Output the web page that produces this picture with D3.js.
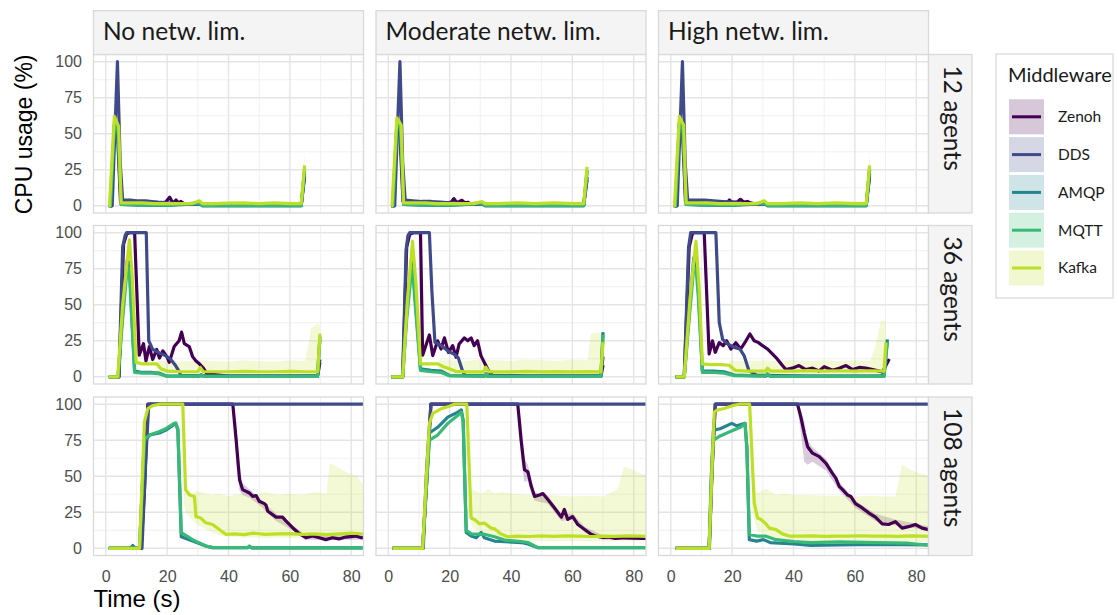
<!DOCTYPE html>
<html>
<head>
<meta charset="utf-8">
<script src="https://cdn.jsdelivr.net/npm/d3@7"></script>
<style>
  body { margin: 0; background: #fff; }
  .strip text { font-family: Lato, sans-serif; fill: #1a1a1a; }
  .axis text { font-family: "Liberation Sans", Arial, sans-serif; fill: #4d4d4d; font-size: 16px; }
</style>
</head>
<body>
<svg id="chart" width="1118" height="615"></svg>
<script>
var middleware = ["Zenoh", "DDS", "AMQP", "MQTT", "Kafka"];
var limits = ["No netw. lim.", "Moderate netw. lim.", "High netw. lim."];
var agentRows = ["12 agents", "36 agents", "108 agents"];
var xTicks = [0, 20, 40, 60, 80], xMinor = [10, 30, 50, 70];
var yTicks = [0, 25, 50, 75, 100], yMinor = [12.5, 37.5, 62.5, 87.5];

// ---- 12 agents  ([time s, cpu %]) ----
var a12_none_zenoh = [[1,0],[1.8,0],[2.8,56],[3.8,52],[4.8,3],[6,2.5],[9,2],[13,1.5],[17,1.5],[19.5,2.5],[20.8,6],[21.6,3],[22.3,2.5],[22.9,4],[23.7,2],[24.5,3],[25.5,1.5],[26.5,1],[30.5,1.5],[31.5,0.5],[45,0.5],[63.7,0.5],[64.8,22]];
var a12_none_dds = [[1,0],[2.1,0],[3.8,100],[4.7,30],[5.5,4],[8,4],[10,3.5],[13,3.5],[15,3],[17,2.5],[20,2],[24,1.5],[28,1],[30.5,1.5],[31.5,0.5],[45,0.5],[63.7,0.5],[64.8,20]];
var a12_none_amqp = [[1,0],[1.5,0],[2.8,54],[4,50],[5,1],[10,0.5],[20,0.3],[30.5,1.5],[31.5,0],[63.7,0],[64.8,24]];
var a12_none_mqtt = [[1,0],[1.5,0],[2.8,57],[4,52],[5,1],[10,0.8],[20,0.5],[30.5,2],[31.5,0.3],[63.7,0.3],[64.8,26]];
var a12_none_kafka = [[1,0],[1.2,0],[2.8,62],[4.2,55],[5,2],[8,2],[12,2],[16,1.5],[20,1.5],[25,1.5],[28,1.5],[30.5,3.5],[31.5,1.5],[35,1.5],[40,1.8],[45,2],[50,1.5],[55,2],[60,1.5],[63.7,1.5],[64.8,28]];

var a12_mod_zenoh = [[1,0],[1.8,0],[2.8,55],[3.8,50],[4.8,3],[6,2.5],[10,2],[14,1.5],[18,1.5],[20.5,2.5],[21.4,5],[22.2,2.5],[23.2,3],[24,3.8],[25,2],[26,2.5],[27,1],[30.5,1.5],[31.5,0.5],[45,0.5],[63.7,0.5],[64.8,20]];
var a12_mod_dds = [[1,0],[2.1,0],[3.8,100],[4.7,30],[5.5,4],[8,3.5],[11,3],[14,3],[17,2.5],[20,2],[24,1.5],[28,1],[30.5,1.5],[31.5,0.5],[45,0.5],[63.7,0.5],[64.8,18]];
var a12_mod_amqp = [[1,0],[1.5,0],[2.8,56],[4,52],[5,1],[10,0.5],[20,0.3],[30.5,1.5],[31.5,0],[63.7,0],[64.8,24]];
var a12_mod_mqtt = [[1,0],[1.5,0],[2.8,58],[4,54],[5,1],[10,0.8],[20,0.5],[30.5,2],[31.5,0.3],[63.7,0.3],[64.8,25]];
var a12_mod_kafka = [[1,0],[1.2,0],[2.8,61],[4.2,56],[5,2],[8,2],[12,2],[16,1.5],[20,1.5],[25,1.5],[28,1.5],[30.5,3],[31.5,1.5],[36,1.5],[42,2],[48,1.5],[54,2],[60,1.5],[63.7,1.5],[64.8,27]];

var a12_high_zenoh = [[1,0],[1.8,0],[2.8,57],[3.8,53],[4.8,3],[6,2.5],[10,2],[14,1.5],[17,2],[18.5,2.5],[19.1,4],[20,2.5],[21.5,2.5],[22.7,4.5],[23.8,2.5],[25,3],[26,2],[28,1],[30.5,1.5],[31.5,0.5],[45,0.5],[63.7,0.5],[64.8,22]];
var a12_high_dds = [[1,0],[2.1,0],[3.8,100],[4.7,30],[5.5,4],[8,4],[11,4],[14,3.5],[17,3],[20,2.5],[24,1.5],[28,1],[30.5,1.5],[31.5,0.5],[45,0.5],[63.7,0.5],[64.8,20]];
var a12_high_amqp = [[1,0],[1.5,0],[2.8,55],[4,51],[5,1],[10,0.5],[20,0.3],[30.5,1.5],[31.5,0],[63.7,0],[64.8,25]];
var a12_high_mqtt = [[1,0],[1.5,0],[2.8,58],[4,53],[5,1],[10,0.8],[20,0.5],[30.5,2],[31.5,0.3],[63.7,0.3],[64.8,26]];
var a12_high_kafka = [[1,0],[1.2,0],[2.8,62],[4.2,56],[5,2],[8,2],[12,2],[16,1.5],[20,1.5],[25,1.5],[28,1.5],[30.5,3.5],[31.5,1.5],[36,1.5],[42,2],[48,1.5],[54,2],[60,1.5],[63.7,1.5],[64.8,28]];

// ---- 36 agents ----
var a36_none_zenoh = [[1,0],[4.3,0],[5.8,92],[6.8,99],[7.7,100],[9.4,100],[10.9,15],[12.3,23],[13.1,11],[14.2,21],[15.3,12],[16.6,19],[17.5,13],[18.6,18],[19.9,14],[20.7,10],[22.3,21],[23.9,25],[24.7,31],[25.6,23],[27.2,21],[28.3,14],[29.4,11],[30.5,9],[31.8,6],[33,2],[40,0.5],[55,0.5],[69,0.5],[69.8,10]];
var a36_none_dds = [[1,0],[4.3,0],[5.5,90],[6.3,98],[6.8,100],[13.2,100],[14,25],[15.3,19],[17.5,16.5],[19.6,14.5],[21.2,12],[22.8,7.6],[23.6,4.8],[24.5,1],[40,0.5],[55,0.5],[69,0.5],[69.8,12]];
var a36_none_amqp = [[1,0],[4,0],[5.5,45],[7,81],[7.7,79],[8.2,55],[9.4,4],[12,3],[15,3],[17.5,2.5],[19.6,0.7],[30.5,0.5],[31,1.5],[32,0.3],[50,0.3],[69,0.3],[69.8,28]];
var a36_none_mqtt = [[1,0],[4,0],[5.5,40],[7,76],[7.7,74],[8.2,50],[9.4,3],[12,2.5],[15,2.5],[17.5,2],[19.6,0.5],[30.5,0.5],[31,1.5],[32,0.3],[50,0.3],[69,0.3],[69.8,26]];
var a36_none_kafka = [[1,0],[3.9,0],[5.5,50],[7.7,95],[8.6,70],[9.9,10],[12,9],[14,9],[16.6,9],[18,5.5],[20,4],[25,3.5],[30,3.5],[30.8,6.5],[31.8,3.5],[40,3.5],[45,3.8],[50,3.5],[55,3.5],[60,3.8],[65,3.5],[69.1,3.5],[69.8,30]];

var a36_mod_zenoh = [[1,0],[4.7,0],[6,90],[7,99],[8.2,100],[10.5,100],[11.2,15],[12.3,22],[13.4,29],[14.5,14.7],[16.1,25],[17.2,19.3],[18.3,27],[19.6,17],[21,21.6],[22.1,13.6],[23.1,22.8],[24.8,27],[25.9,25],[27,27],[28,21.6],[29.1,25],[30.2,14.7],[31.8,7.8],[32.9,3.2],[34,1],[45,0.5],[69.3,0.5],[70,8]];
var a36_mod_dds = [[1,0],[4.7,0],[5.8,88],[6.4,98],[7,100],[13.4,100],[14.2,60],[15.2,24],[17,22],[19.4,18],[21.5,15.6],[22.8,13.3],[24.2,4.1],[25,1],[45,0.5],[69.3,0.5],[70,14]];
var a36_mod_amqp = [[1,0],[4.7,0],[6,45],[7.6,81],[7.9,84],[8.6,60],[10.5,5.5],[14,4.5],[17.2,4],[19.9,0.9],[31.3,0.5],[31.8,2],[32.5,0.3],[50,0.3],[69.3,0.3],[70,31]];
var a36_mod_mqtt = [[1,0],[4.7,0],[6,40],[7.6,74],[7.9,76],[8.6,55],[10.5,4.5],[14,3.5],[17.2,3],[19.9,0.7],[31.3,0.5],[31.8,2],[32.5,0.3],[50,0.3],[69.3,0.3],[70,29]];
var a36_mod_kafka = [[1,0],[4.7,0],[6.3,55],[7.9,94],[9,65],[10.5,9],[13,9],[16.1,9],[18,7],[19.9,5.5],[22,3.8],[26,3.4],[31,3.4],[31.8,6.7],[32.8,3.4],[40,3.4],[45,3.8],[50,3.4],[55,3.6],[60,3.4],[65,3.6],[69.3,3.4],[70,24]];

var a36_high_zenoh = [[1.6,0],[4.4,0],[6,90],[7,99],[7.5,100],[10.9,100],[12.5,15.9],[13.6,25],[14.5,17],[15.8,23.7],[17.1,21.6],[18.2,25],[19.6,19.3],[21.2,23.7],[22.8,19.3],[24.5,25],[25.8,29.7],[27.2,25],[28.6,23.7],[29.9,21.6],[31.5,19.3],[33.1,15.9],[34.7,12.4],[36.4,7.8],[37.5,5],[39.6,6],[41.8,7.8],[44,5],[46.2,6],[48.3,4],[50,7],[52.7,4.5],[54.9,6],[57.1,7.8],[59.3,5],[61.4,6.5],[63.6,6],[65.8,5],[69,3.4],[71.2,12.4]];
var a36_high_dds = [[1.6,0],[4.4,0],[5.8,90],[6.5,100],[14.7,100],[15.8,37.7],[16.9,26],[18.5,22.8],[20.7,20.4],[22.5,19.3],[23.9,14.7],[25.5,4.1],[26.6,3],[28,1],[45,0.5],[69,0.5],[70.3,11]];
var a36_high_amqp = [[1.6,0],[4.4,0],[6,45],[7.5,82.5],[8.3,80],[9,60],[10.3,4],[14,4],[17.4,3.5],[20.7,1.2],[31,0.5],[31.5,2],[32.5,0.3],[50,0.3],[69.5,0.3],[70.6,26]];
var a36_high_mqtt = [[1.6,0],[4.4,0],[6,40],[7.5,76],[8.3,74],[9,55],[10.3,3],[14,3],[17.4,2.5],[20.7,0.8],[31,0.5],[31.5,2],[32.5,0.3],[50,0.3],[69.5,0.3],[70.6,24]];
var a36_high_kafka = [[1.6,0],[4.4,0],[6.3,55],[8.2,94],[9.3,60],[10.3,9],[13,8.5],[16,8.5],[19,8],[21,4.5],[25,4],[31,4],[31.5,6],[32.5,4],[40,4],[45,4.3],[50,4],[55,4.2],[60,4],[65,4.2],[69.5,4],[70.1,23.7]];

// ---- 108 agents ----
var a108_none_zenoh = [[1,0],[11.5,0],[12.6,40],[13.7,100],[41.4,100],[42.5,75],[43.6,47.6],[44.6,40.7],[46.8,38.4],[47.9,36],[49,36.6],[50,32.6],[51.7,31],[52.2,30],[52.8,25.7],[55.5,21.6],[57.6,21.6],[58.7,19],[60.9,14.3],[63,10.3],[65.2,7.3],[67.4,8.5],[69.6,7.3],[71.7,6],[73.9,7.3],[76,6.5],[78.2,7.8],[81.4,8.5],[83.4,7.3],[85,7.5]];
var a108_none_dds = [[1,0],[11.8,0],[13,60],[14,100],[85,100]];
var a108_none_amqp = [[1,0],[8,0],[8.8,2],[9.6,0],[11,0],[12.6,74],[14.3,78.6],[17.5,80],[19.6,82],[22.3,86],[22.8,86.7],[23.5,82],[24.6,8],[28.3,5],[32.6,1.6],[34.8,0.5],[46.3,0.5],[46.8,1.5],[47.5,0.3],[85,0.3]];
var a108_none_mqtt = [[1,0],[11,0],[12.6,76],[14.3,78.6],[17.5,81],[19.6,83],[22.3,86.7],[22.8,87],[23.5,83],[24.6,10.8],[28.3,6],[32.6,1.6],[34.8,0.5],[46.3,0.5],[46.8,1.5],[47.5,0.3],[85,0.3]];
var a108_none_kafka = [[1,0],[11,0],[12.6,87.8],[13.7,97],[15.3,99],[17.5,100],[25.1,100],[26,40.7],[27.3,37],[28.9,36],[29.4,22],[31,21],[32.6,17.7],[34.8,16.5],[37,13],[39.1,9.7],[42,10],[45,9.5],[48,10.5],[52,9.7],[56,10],[60,10.2],[64,9.7],[68,10],[72,9.5],[76,10],[80,10.5],[85,9.8]];

var a108_mod_zenoh = [[1.4,0],[11.2,0],[12.5,45],[13.9,100],[42.2,100],[43.3,75],[44.4,54.5],[45.5,53],[46.6,43],[47.7,36],[49.3,37],[50.4,38],[52,33.8],[54.2,28],[56.4,21.6],[57.4,27],[58.5,20],[60.1,22],[61.8,16.5],[64,13],[66.1,9.7],[67.5,8.5],[70,7.5],[72,7.8],[74,6.8],[77,7.3],[80,7],[83,6.8],[85,7]];
var a108_mod_dds = [[1.4,0],[11.4,0],[12.5,55],[13.9,100],[85,100]];
var a108_mod_amqp = [[1.4,0],[11.2,0],[12.3,40],[13.4,80],[16.1,84],[19.4,91],[22.7,94.5],[23.8,96],[24.4,89],[25.4,11],[27,8.5],[28.7,7.3],[30.3,11],[31.3,7.3],[34.6,5],[43.3,4],[45.5,3],[48.7,0.5],[85,0.5]];
var a108_mod_mqtt = [[1.4,0],[11.2,0],[12.3,38],[13.4,75],[16.1,78.6],[19.4,86.7],[22.7,92.4],[23.8,94.5],[24.4,88],[25.4,12.6],[27,10],[31.3,9.7],[34.6,8],[37.9,5.7],[43.3,4.7],[45.5,4],[48.7,0.5],[85,0.5]];
var a108_mod_kafka = [[1.4,0],[11.2,0],[12.3,45],[13.4,86.7],[14.5,93.6],[17.2,96.8],[19.9,98.6],[21.5,100],[25.6,100],[27,21],[28.1,20],[29.7,17],[31.3,17.5],[33.5,14],[34.6,13.5],[36.7,10],[38.9,8],[42,8.4],[46,8.2],[50,8.6],[54,8.3],[58,8.6],[62,8.4],[66,8.2],[70,8.5],[74,8.3],[78,8.6],[82,8.4],[85,8.2]];

var a108_high_zenoh = [[1.6,0],[12.5,0],[13.5,55],[14.5,100],[41.3,100],[42.4,91],[43.5,80],[44.6,70.5],[46.2,66],[48.4,63.6],[50.6,59],[52.7,52],[53.8,48.7],[54.9,43],[56,40.7],[57.6,37],[58.7,36],[60.2,31],[62.4,28],[64.5,24.6],[66.7,21.6],[68.9,17],[71,16.5],[73.2,18.5],[75.4,14],[77.5,15],[79.7,16.5],[81.9,14],[84,13],[85,13.5]];
var a108_high_dds = [[1.6,0],[12.6,0],[13.5,60],[14.5,100],[85,100]];
var a108_high_amqp = [[1.6,0],[12.5,0],[13.2,50],[13.9,82],[16.1,83],[19.9,86.7],[21.5,85],[24.2,86.7],[24.8,70],[25.6,6],[28,5],[30.2,6],[32.4,4],[40.1,3],[45.6,2],[55,2.3],[67.3,2.7],[76,2.5],[85,2.3]];
var a108_high_mqtt = [[1.6,0],[12.5,0],[13.2,45],[13.9,75],[16.1,78],[19.4,81],[22.7,84],[24.2,86.7],[24.8,70],[25.6,9.7],[28,8.5],[30.8,8.5],[34.3,6],[40.1,4.7],[45.6,4],[55,4.5],[67.3,4],[76.9,3.6],[80,3],[85,2]];
var a108_high_kafka = [[1.6,0],[12.5,0],[13.5,60],[14.2,94.7],[15.3,96],[17.4,97],[20.1,99],[22.3,100],[25.7,100],[27.2,31.5],[28.3,21],[29.4,20],[31,17],[32.1,14],[34.3,13],[36.4,10],[38.6,8.5],[42,8.4],[46,8.6],[50,8.3],[54,8.5],[58,8.4],[62,8.7],[66,8.4],[70,8.5],[74,8.3],[78,8.6],[82,8.4],[85,8.3]];

// ---- ribbons ([time s, low %, high %]) ----
var b12_none_kafka = [[58,0.5,3],[63.7,0.5,3],[64.8,18,38]];
var b12_mod_kafka = [[58,0.5,3],[63.7,0.5,3],[64.8,18,36]];
var b12_high_kafka = [[58,0.5,3],[63.7,0.5,3],[64.8,18,38]];
var b36_none_kafka = [[16.6,3,11],[20,2.5,11],[25,2.5,10.5],[30,2.8,11.5],[35,2.5,11],[40,2.5,10.5],[45,2.8,11.5],[50,2.5,11],[55,2.5,10.5],[60,2.8,11.5],[65,2.5,11],[67,2.5,34],[69.1,2.5,37],[69.8,22,36]];
var b36_mod_kafka = [[16.1,2,11.3],[20,1.5,11.5],[25,1.5,11],[30,1.5,12],[35,1.5,11.5],[40,1.5,11],[45,1.5,12],[50,1.5,11.5],[55,1.5,11],[60,1.5,12],[65,1.5,11.5],[66,1.5,30],[69.3,1.5,31],[70,18,30]];
var b36_high_kafka = [[19,2,11.3],[25,1.5,11],[30,1.5,11.5],[35,1.5,11],[40,1.5,11.5],[45,1.5,11],[50,1.5,11.5],[55,1.5,11],[60,1.5,11.5],[65,1.5,11],[67,1.5,24],[68.5,1.5,39],[70.1,15,39]];
var b108_none_kafka = [[25.5,30,45],[26,25,42],[28,20,38],[30,16,40],[32.6,13,38],[34.8,11,37],[37,9,38],[40,8,36],[44,7.5,38],[48,7.5,37],[52,7,39],[56,7.5,37],[60,7,38],[64,7.5,37],[68,7,39],[72,7.5,38],[73,7.5,59],[75,7.5,57],[79,7.5,52],[82,7.5,50],[85,7.5,40]];
var b108_mod_kafka = [[26,25,40],[27.5,14,40.7],[30.3,11,38],[32.6,10,41],[34.6,8,38],[36.7,6,39],[40,5,38],[45,5,37],[50,5,37.5],[55,5,36.5],[60,5,36],[65,5,36.5],[70,5,36],[74.7,5,40.7],[76.9,5,56.8],[79.1,5,55],[82,5,52],[85,5,50]];
var b108_high_kafka = [[26.5,25,42],[28.3,12,38],[31,9,41.5],[34.3,6,37],[37,5,38],[40,4.5,37],[45,4.5,37],[50,4.5,36.5],[55,4.5,36.5],[60,4.5,36],[65,4.5,36.5],[70,4.5,36],[73.2,4.5,36],[75.4,4.5,58],[77.6,4.5,55],[81,4.5,52],[85,4.5,50]];
var b108_none_zenoh = [[41.4,99,100],[42.5,60,88],[43.6,40,55],[44.6,37,45],[46.8,35,41],[50,30,35],[55.5,19,24],[60.9,12.5,16],[65.2,6,9],[70,6,9],[85,6,9]];
var b108_mod_zenoh = [[42.2,99,100],[43.3,62,88],[44.4,46,62],[45.5,47,58],[46.6,38,48],[47.7,33,39],[52,31,36.5],[56.4,19,24],[60.1,20,24],[64,11,15],[70,6,9],[85,6,8.5]];
var b108_high_zenoh = [[41.3,99,100],[42.4,80,96],[43.5,60,88],[44.6,58,75],[46.2,60,70],[50.6,54,62],[54.9,40,46],[60.2,28,33],[66.7,19,24],[73.2,16,20],[85,12,15]];

// lookup tables built from the arrays above
var lines = [
  [[a12_none_zenoh, a12_none_dds, a12_none_amqp, a12_none_mqtt, a12_none_kafka],
   [a12_mod_zenoh, a12_mod_dds, a12_mod_amqp, a12_mod_mqtt, a12_mod_kafka],
   [a12_high_zenoh, a12_high_dds, a12_high_amqp, a12_high_mqtt, a12_high_kafka]],
  [[a36_none_zenoh, a36_none_dds, a36_none_amqp, a36_none_mqtt, a36_none_kafka],
   [a36_mod_zenoh, a36_mod_dds, a36_mod_amqp, a36_mod_mqtt, a36_mod_kafka],
   [a36_high_zenoh, a36_high_dds, a36_high_amqp, a36_high_mqtt, a36_high_kafka]],
  [[a108_none_zenoh, a108_none_dds, a108_none_amqp, a108_none_mqtt, a108_none_kafka],
   [a108_mod_zenoh, a108_mod_dds, a108_mod_amqp, a108_mod_mqtt, a108_mod_kafka],
   [a108_high_zenoh, a108_high_dds, a108_high_amqp, a108_high_mqtt, a108_high_kafka]]
];
var ribbons = [
  [[{mw:"Kafka", d:b12_none_kafka}], [{mw:"Kafka", d:b12_mod_kafka}], [{mw:"Kafka", d:b12_high_kafka}]],
  [[{mw:"Kafka", d:b36_none_kafka}], [{mw:"Kafka", d:b36_mod_kafka}], [{mw:"Kafka", d:b36_high_kafka}]],
  [[{mw:"Zenoh", d:b108_none_zenoh}, {mw:"Kafka", d:b108_none_kafka}],
   [{mw:"Zenoh", d:b108_mod_zenoh}, {mw:"Kafka", d:b108_mod_kafka}],
   [{mw:"Zenoh", d:b108_high_zenoh}, {mw:"Kafka", d:b108_high_kafka}]]
];

var colX = [93.5, 376, 658.5], panelW = 270,
    rowY = [54.5, 225.5, 397], panelH = 158.5,
    stripTop = 10.7, stripW = 43.5;

var x = d3.scaleLinear().domain([-4, 84]).range([0, panelW]);
var y = d3.scaleLinear().domain([-5, 105]).range([panelH, 0]);
var colour = d3.scaleOrdinal()
  .domain(middleware)
  .range(middleware.map(function(d, i){ return d3.interpolateViridis(i * 0.225); }));

var svg = d3.select("#chart");

var line = d3.line()
  .x(function(d){ return x(d[0]); })
  .y(function(d){ return y(d[1]); });
var area = d3.area()
  .x(function(d){ return x(d[0]); })
  .y0(function(d){ return y(d[1]); })
  .y1(function(d){ return y(d[2]); });

agentRows.forEach(function(rowName, r){
  limits.forEach(function(colName, c){
    var g = svg.append("g").attr("transform", "translate(" + colX[c] + "," + rowY[r] + ")");
    var clipId = "clip-" + r + "-" + c;
    g.append("clipPath").attr("id", clipId)
      .append("rect").attr("width", panelW).attr("height", panelH);

    // grid
    g.selectAll(".xminor").data(xMinor).enter().append("line")
      .attr("x1", x).attr("x2", x).attr("y1", 0).attr("y2", panelH)
      .attr("stroke", "#ededed").attr("stroke-width", 0.8);
    g.selectAll(".yminor").data(yMinor).enter().append("line")
      .attr("y1", y).attr("y2", y).attr("x1", 0).attr("x2", panelW)
      .attr("stroke", "#ededed").attr("stroke-width", 0.8);
    g.selectAll(".xmajor").data(xTicks).enter().append("line")
      .attr("x1", x).attr("x2", x).attr("y1", 0).attr("y2", panelH)
      .attr("stroke", "#e5e5e5").attr("stroke-width", 1.4);
    g.selectAll(".ymajor").data(yTicks).enter().append("line")
      .attr("y1", y).attr("y2", y).attr("x1", 0).attr("x2", panelW)
      .attr("stroke", "#e5e5e5").attr("stroke-width", 1.4);

    var plot = g.append("g").attr("clip-path", "url(#" + clipId + ")");
    plot.selectAll(".band").data(ribbons[r][c]).enter().append("path")
      .attr("d", function(d){ return area(d.d); })
      .attr("fill", function(d){ return colour(d.mw); })
      .attr("fill-opacity", 0.2);
    plot.selectAll(".series").data(lines[r][c]).enter().append("path")
      .attr("d", line)
      .attr("fill", "none")
      .attr("stroke", function(d, i){ return colour(middleware[i]); })
      .attr("stroke-width", 3.2)
      .attr("stroke-linejoin", "round");

    g.append("rect").attr("width", panelW).attr("height", panelH)
      .attr("fill", "none").attr("stroke", "#d9d9d9").attr("stroke-width", 1.3);

    if (c === 0) {
      var ya = g.append("g").attr("class", "axis")
        .call(d3.axisLeft(y).tickValues(yTicks).tickSize(0).tickPadding(11.5));
      ya.select(".domain").remove();
    }
    if (r === 2) {
      var xa = g.append("g").attr("class", "axis")
        .attr("transform", "translate(0," + panelH + ")")
        .call(d3.axisBottom(x).tickValues(xTicks).tickSize(0).tickPadding(15));
      xa.select(".domain").remove();
    }
  });
});

// column strips
var topStrips = svg.selectAll(".topstrip").data(limits).enter().append("g")
  .attr("class", "strip")
  .attr("transform", function(d, i){ return "translate(" + colX[i] + "," + stripTop + ")"; });
topStrips.append("rect")
  .attr("width", panelW).attr("height", rowY[0] - stripTop)
  .attr("fill", "#f4f4f4").attr("stroke", "#d9d9d9").attr("stroke-width", 1.3);
topStrips.append("text")
  .attr("x", 9.5).attr("y", 29.8)
  .style("font-size", "24.5px")
  .text(function(d){ return d; });

// row strips
var rightX = colX[2] + panelW;
var rowStrips = svg.selectAll(".rowstrip").data(agentRows).enter().append("g")
  .attr("class", "strip")
  .attr("transform", function(d, i){ return "translate(" + rightX + "," + rowY[i] + ")"; });
rowStrips.append("rect")
  .attr("width", stripW).attr("height", panelH)
  .attr("fill", "#f4f4f4").attr("stroke", "#d9d9d9").attr("stroke-width", 1.3);
rowStrips.append("text")
  .attr("transform", "translate(15,11) rotate(90)")
  .style("font-size", "24.5px")
  .text(function(d){ return d; });

// axis titles
svg.append("text")
  .attr("transform", "translate(32," + rowY[0] + ") rotate(-90)")
  .attr("text-anchor", "end")
  .style("font-family", "'Liberation Sans', Arial, sans-serif")
  .style("font-size", "23px").attr("fill", "#000")
  .text("CPU usage (%)");
svg.append("text")
  .attr("x", colX[0]).attr("y", 607)
  .style("font-family", "'Liberation Sans', Arial, sans-serif")
  .style("font-size", "24px").attr("fill", "#000")
  .text("Time (s)");

// legend
var legend = svg.append("g").attr("transform", "translate(996,54)");
legend.append("rect").attr("width", 117).attr("height", 244)
  .attr("fill", "#fff").attr("stroke", "#d9d9d9").attr("stroke-width", 1.3);
legend.append("text").attr("x", 12).attr("y", 27.5)
  .style("font-family", "Lato, sans-serif").style("font-size", "20px").attr("fill", "#1a1a1a")
  .text("Middleware");
var keys = legend.selectAll(".key").data(middleware).enter().append("g")
  .attr("transform", function(d, i){ return "translate(13," + (45.3 + i * 37.8) + ")"; });
keys.append("rect").attr("width", 35).attr("height", 35)
  .attr("fill", colour).attr("fill-opacity", 0.22);
keys.append("line").attr("x1", 3).attr("x2", 32).attr("y1", 17.5).attr("y2", 17.5)
  .attr("stroke", colour).attr("stroke-width", 3);
keys.append("text").attr("x", 49).attr("y", 17.5).attr("dy", "0.35em")
  .style("font-family", "Lato, sans-serif").style("font-size", "15.5px").attr("fill", "#1a1a1a")
  .text(function(d){ return d; });
</script>
</body>
</html>
